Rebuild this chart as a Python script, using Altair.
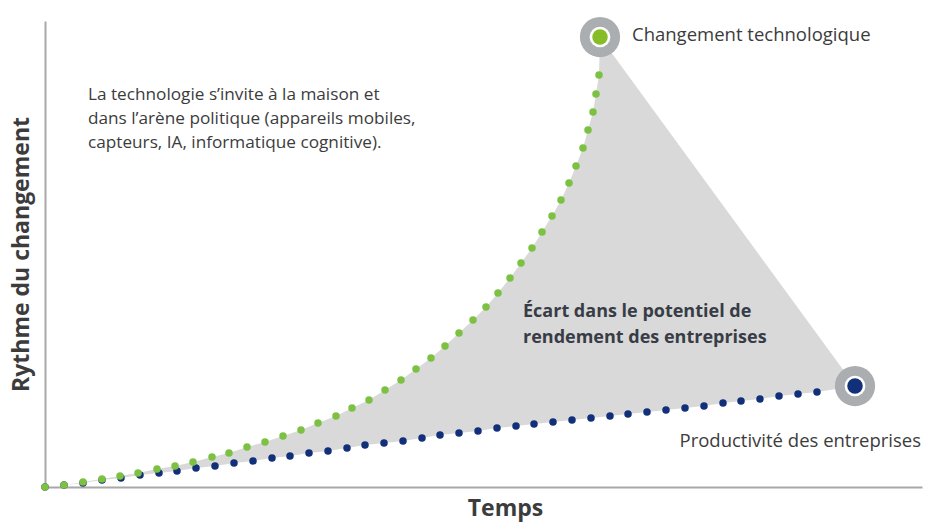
import altair as alt
import pandas as pd

# Technological change: dotted curve rising steeply over time
tech_time = [0, 1.9, 3.8, 5.7, 7.5, 9.3, 11.2, 13.0, 14.8, 16.7, 18.4, 20.2, 22.0, 23.8,
             25.6, 27.3, 29.1, 30.7, 32.4, 34.0, 35.6, 37.1, 38.6, 40.0, 41.4, 42.8,
             44.1, 45.3, 46.5, 47.6, 48.7, 49.7, 50.7, 51.6, 52.4, 53.1, 53.8, 54.3,
             54.8, 55.1, 55.4]
tech_rate = [0, 0.2, 0.5, 0.8, 1.1, 1.4, 1.8, 2.1, 2.5, 3.0, 3.4, 4.0, 4.5, 5.1, 5.7,
             6.4, 7.1, 7.9, 8.7, 9.7, 10.7, 11.8, 12.9, 14.1, 15.4, 16.7, 18.0, 19.4,
             20.9, 22.4, 23.9, 25.5, 27.1, 28.7, 30.4, 32.1, 33.9, 35.7, 37.5, 39.3, 41.2]

# Business productivity: slow, almost linear growth
prod_time = [0, 1.9, 3.8, 5.7, 7.6, 9.5, 11.4, 13.2, 15.1, 17.0, 18.9, 20.8, 22.7,
             24.5, 26.4, 28.3, 30.2, 32.0, 33.9, 35.8, 37.7, 39.5, 41.4, 43.3, 45.2,
             47.1, 48.9, 50.8, 52.7, 54.6, 56.5, 58.3, 60.2, 62.1, 64.0, 65.9, 67.8,
             69.6, 71.5, 73.4, 75.3, 77.2]
prod_rate = [0, 0.2, 0.4, 0.7, 0.9, 1.2, 1.4, 1.6, 1.9, 2.1, 2.4, 2.6, 2.9, 3.1, 3.4,
             3.6, 3.9, 4.2, 4.4, 4.6, 4.9, 5.2, 5.4, 5.6, 5.9, 6.1, 6.3, 6.5, 6.7, 6.9,
             7.1, 7.3, 7.5, 7.7, 7.9, 8.1, 8.4, 8.6, 8.8, 9.1, 9.3, 9.5]

# End markers of the two series
end_names = ["Changement technologique", "Productivité des entreprises"]
end_time = [55.5, 81.0]
end_rate = [45.0, 10.1]

GREEN_DOT = "#7dc142"
GREEN_END = "#86bc25"
BLUE = "#12307a"
RING = "#abaeb0"
GAP = "#d9d9d9"
TEXT = "#3c3c3c"
FONT = "Open Sans"

tech = pd.DataFrame({"t": tech_time, "r": tech_rate})
prod = pd.DataFrame({"t": prod_time, "r": prod_rate})
ends = pd.DataFrame({"name": end_names, "t": end_time, "r": end_rate})

# Gap polygon: up the tech curve, across to the productivity end, back along productivity
poly_t = tech_time + end_time + prod_time[::-1]
poly_r = tech_rate + end_rate + prod_rate[::-1]
poly = pd.DataFrame({"t": poly_t, "r": poly_r, "i": list(range(len(poly_t)))})

xs = alt.Scale(domain=[0, 87.7], nice=False, zero=False)
ys = alt.Scale(domain=[0, 46.6], nice=False, zero=False)

x_axis = alt.Axis(domain=True, domainColor="#a8a8a8", domainWidth=2, ticks=False,
                  labels=False, grid=False, title="Temps", titleFont=FONT,
                  titleFontSize=23, titleFontWeight="bold", titleColor=TEXT,
                  titlePadding=10, titleX=460, titleAlign="center")
y_axis = alt.Axis(domain=True, domainColor="#a8a8a8", domainWidth=2, ticks=False,
                  labels=False, grid=False, title="Rythme du changement", titleFont=FONT,
                  titleFontSize=23, titleFontWeight="bold", titleColor=TEXT,
                  titlePadding=12)

gap = alt.Chart(poly).mark_line(
    interpolate="linear-closed", fill=GAP, strokeOpacity=0
).encode(
    x=alt.X("t:Q", scale=xs, axis=x_axis),
    y=alt.Y("r:Q", scale=ys, axis=y_axis),
    order="i:Q",
)

prod_dots = alt.Chart(prod).mark_circle(size=56, color=BLUE, opacity=1).encode(
    x=alt.X("t:Q", scale=xs), y=alt.Y("r:Q", scale=ys)
)
tech_dots = alt.Chart(tech).mark_circle(size=56, color=GREEN_DOT, opacity=1).encode(
    x=alt.X("t:Q", scale=xs), y=alt.Y("r:Q", scale=ys)
)

end_base = alt.Chart(ends).encode(x=alt.X("t:Q", scale=xs), y=alt.Y("r:Q", scale=ys))
ring = end_base.mark_circle(size=1620, color=RING, opacity=1)
white = end_base.mark_circle(size=430, color="white", opacity=1)
core = end_base.mark_circle(size=240, opacity=1).encode(
    color=alt.Color("name:N", scale=alt.Scale(domain=end_names, range=[GREEN_END, BLUE]),
                    legend=None)
)

tech_label = alt.Chart(ends.iloc[[0]]).mark_text(
    align="left", baseline="middle", dx=32, dy=-2, font=FONT, fontSize=18.5, color=TEXT
).encode(x=alt.X("t:Q", scale=xs), y=alt.Y("r:Q", scale=ys), text="name:N")

prod_label = alt.Chart(ends.iloc[[1]]).mark_text(
    align="right", baseline="middle", dx=66, dy=55, font=FONT, fontSize=18.5, color=TEXT
).encode(x=alt.X("t:Q", scale=xs), y=alt.Y("r:Q", scale=ys), text="name:N")

notes = pd.DataFrame({
    "t": [4.3, 47.8],
    "r": [39.2, 17.5],
    "txt": [
        "La technologie s’invite à la maison et\ndans l’arène politique (appareils mobiles,\ncapteurs, IA, informatique cognitive).",
        "Écart dans le potentiel de\nrendement des entreprises",
    ],
})

note_intro = alt.Chart(notes.iloc[[0]]).mark_text(
    align="left", baseline="middle", lineBreak="\n", lineHeight=24, font=FONT,
    fontSize=17.2, color=TEXT
).encode(x=alt.X("t:Q", scale=xs), y=alt.Y("r:Q", scale=ys), text="txt:N")

note_gap = alt.Chart(notes.iloc[[1]]).mark_text(
    align="left", baseline="middle", lineBreak="\n", lineHeight=26, font=FONT,
    fontSize=18, fontWeight="bold", color="#383c46"
).encode(x=alt.X("t:Q", scale=xs), y=alt.Y("r:Q", scale=ys), text="txt:N")

chart = alt.layer(
    gap, prod_dots, tech_dots, ring, white, core, tech_label, prod_label, note_intro, note_gap
).properties(
    width=877, height=466,
    autosize=alt.AutoSizeParams(type="none"),
    padding={"left": 45, "top": 21, "right": 3, "bottom": 36},
    background="white",
).configure_view(stroke=None)

chart.save("out.html", embed_options={"renderer": "svg", "actions": False})
